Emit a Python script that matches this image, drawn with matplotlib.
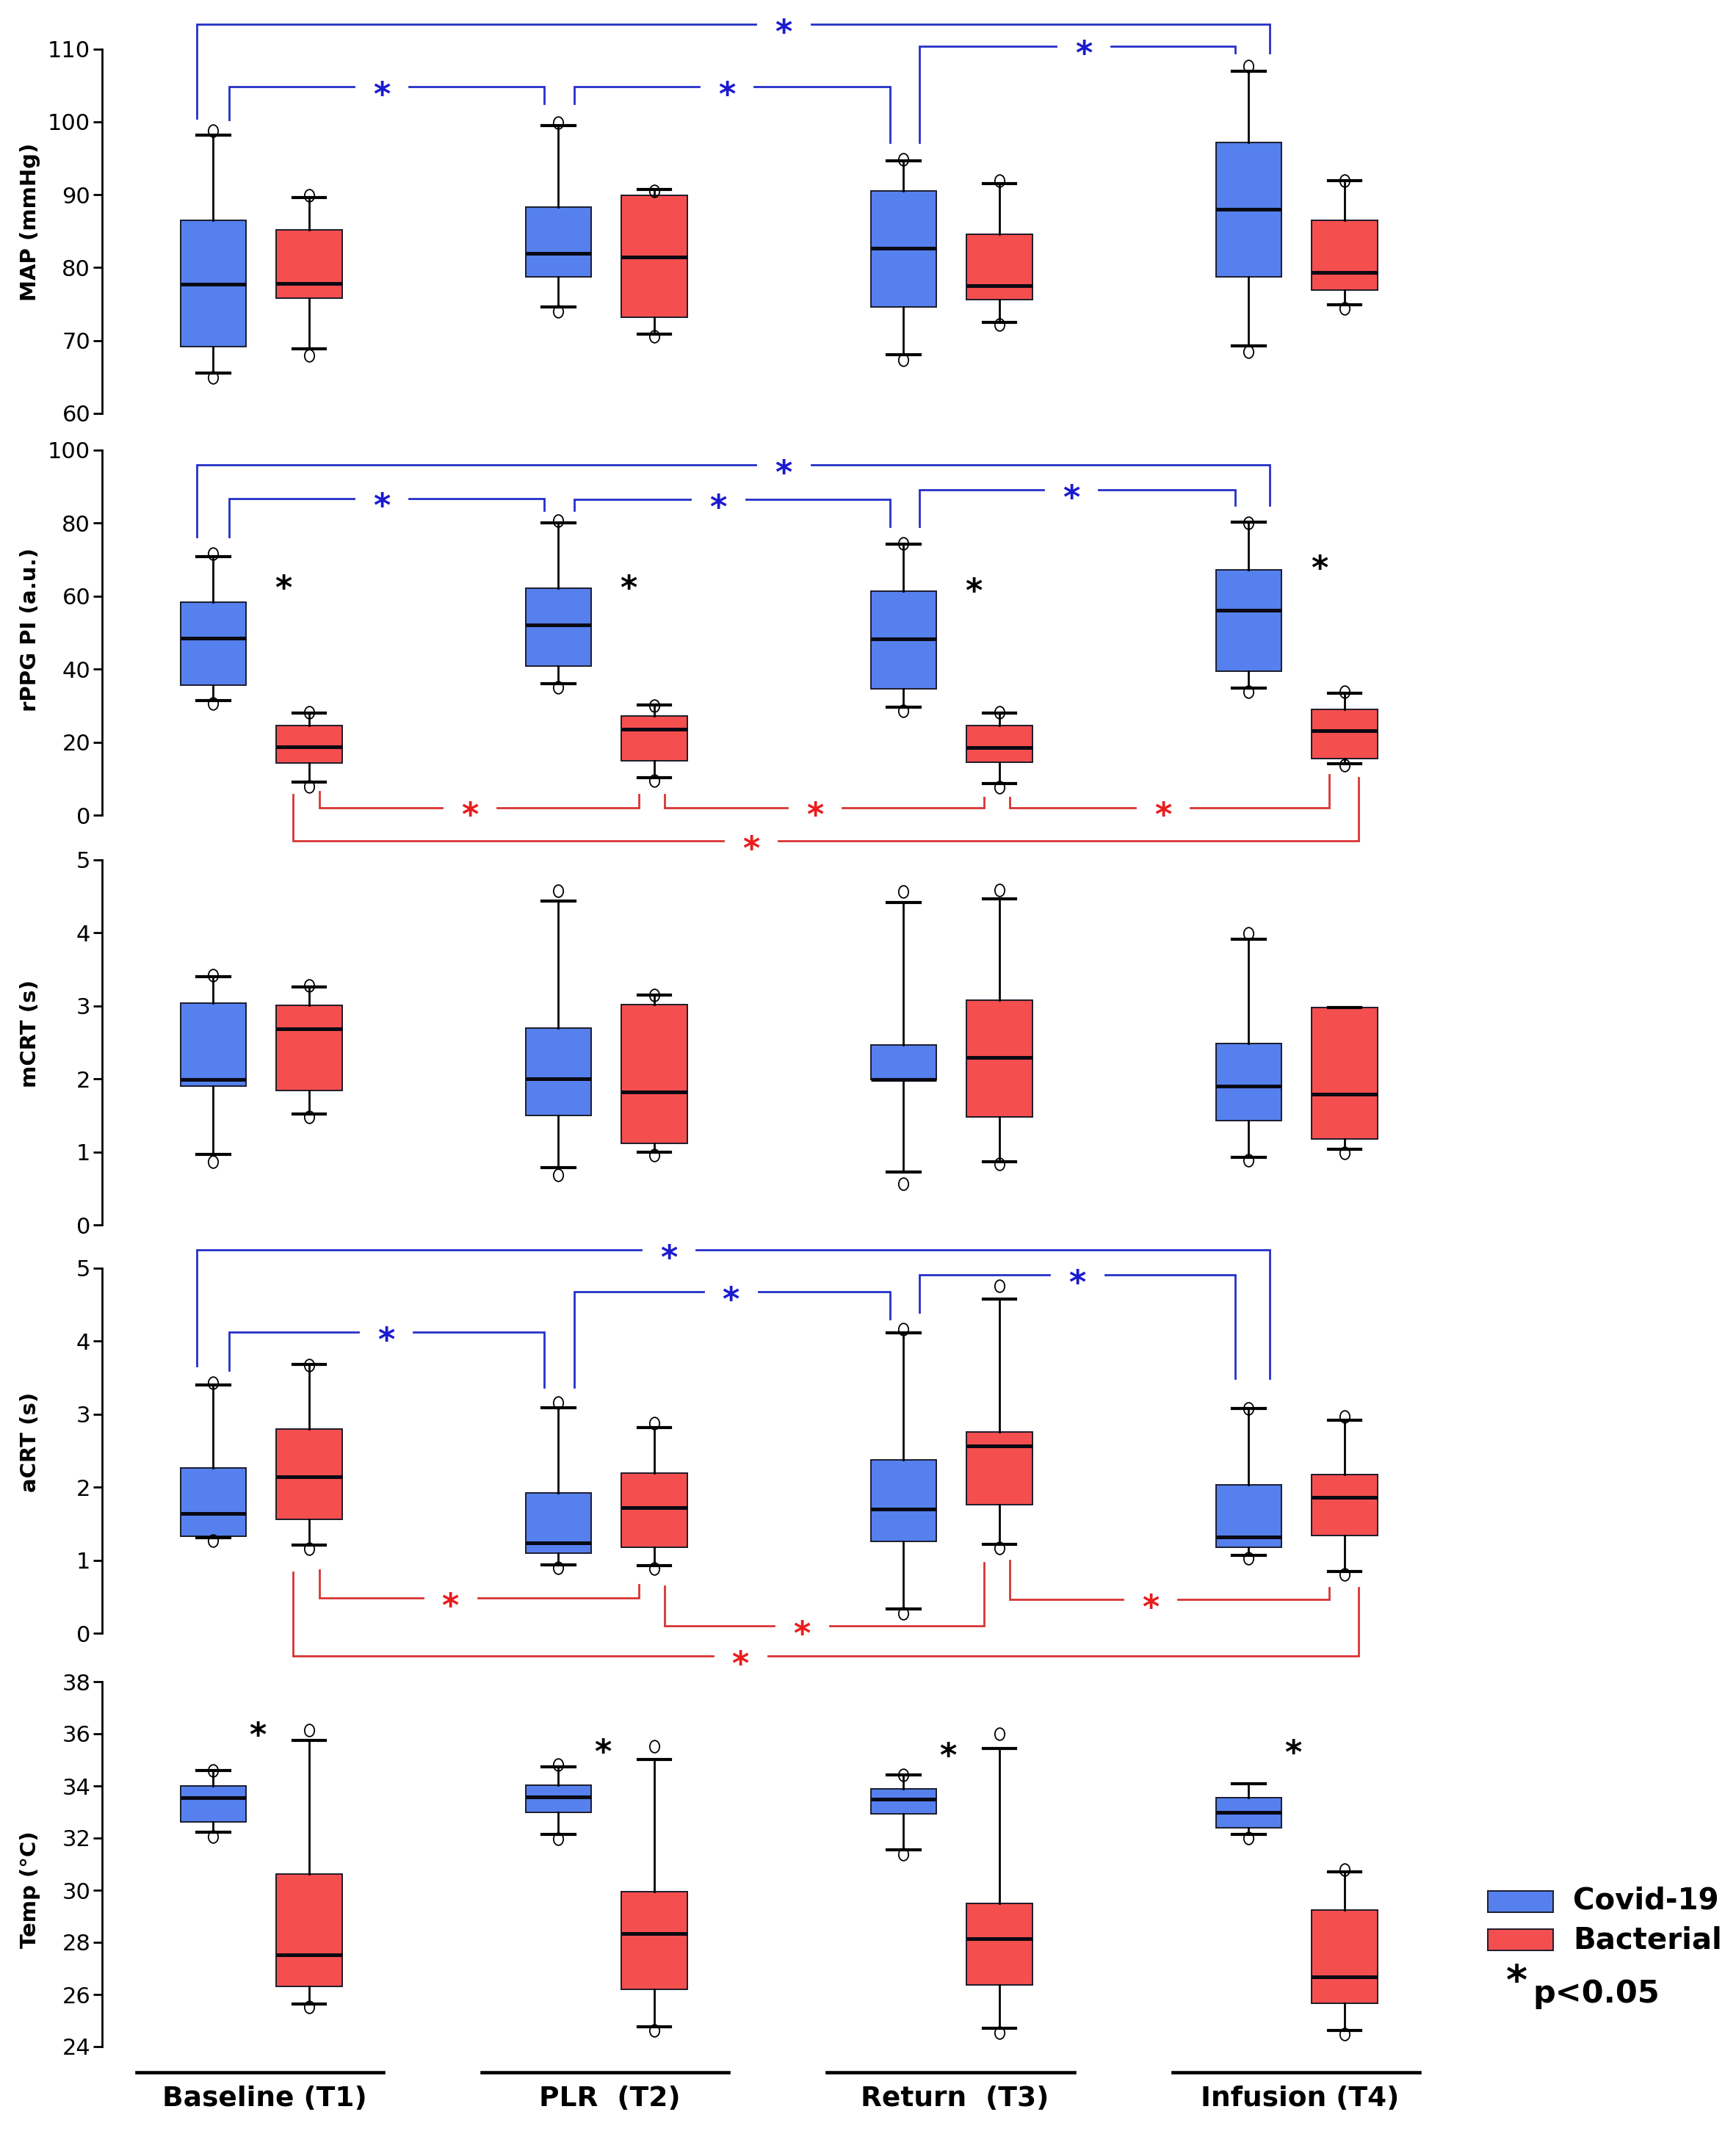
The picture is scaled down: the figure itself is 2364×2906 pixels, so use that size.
import numpy as np
import matplotlib
matplotlib.use('Agg')
import matplotlib.pyplot as plt
from matplotlib.path import Path
from matplotlib.patches import Rectangle

#- groups along the x axis
groups = ['Baseline (T1)', 'PLR  (T2)', 'Return  (T3)', 'Infusion (T4)']

#- box stats per group: [low circle, whisker low, q1, median, q3, whisker high, high circle]
map_covid = [[64.9, 65.5, 69.2, 77.7, 86.5, 98.2, 98.8],
             [74.0, 74.6, 78.7, 82.0, 88.3, 99.5, 99.9],
             [67.4, 68.1, 74.6, 82.7, 90.5, 94.6, 94.8],
             [68.5, 69.3, 78.7, 88.0, 97.2, 106.9, 107.6]]
map_bact = [[68.0, 68.9, 75.8, 77.8, 85.2, 89.6, 89.9],
            [70.6, 70.9, 73.2, 81.5, 89.9, 90.7, 90.5],
            [72.2, 72.5, 75.6, 77.5, 84.6, 91.5, 91.9],
            [74.4, 74.9, 76.9, 79.3, 86.5, 91.9, 91.9]]

ppg_covid = [[30.6, 31.3, 35.6, 48.4, 58.3, 70.9, 71.7],
             [35.0, 36.0, 40.9, 52.1, 62.1, 80.1, 80.7],
             [28.5, 29.6, 34.7, 48.2, 61.3, 74.2, 74.5],
             [33.9, 34.8, 39.5, 56.2, 67.3, 80.2, 80.1]]
ppg_bact = [[7.9, 9.0, 14.3, 18.8, 24.5, 28.0, 28.1],
            [9.4, 10.3, 14.9, 23.5, 27.1, 30.2, 30.0],
            [7.6, 8.6, 14.4, 18.6, 24.5, 27.9, 28.1],
            [13.6, 14.1, 15.4, 23.2, 28.9, 33.5, 33.9]]

mcrt_covid = [[0.87, 0.97, 1.90, 1.99, 3.04, 3.40, 3.42],
              [0.68, 0.78, 1.50, 2.00, 2.70, 4.44, 4.58],
              [0.56, 0.72, 1.99, 1.99, 2.46, 4.42, 4.57],
              [0.89, 0.93, 1.43, 1.90, 2.48, 3.91, 3.99]]
mcrt_bact = [[1.48, 1.52, 1.84, 2.69, 3.01, 3.26, 3.28],
             [0.96, 1.00, 1.12, 1.82, 3.02, 3.15, 3.15],
             [0.83, 0.87, 1.48, 2.29, 3.08, 4.47, 4.59],
             [0.99, 1.04, 1.18, 1.79, 2.98, 2.98, np.nan]]

acrt_covid = [[1.27, 1.31, 1.33, 1.64, 2.26, 3.40, 3.43],
              [0.90, 0.94, 1.10, 1.24, 1.92, 3.09, 3.16],
              [0.27, 0.33, 1.26, 1.70, 2.37, 4.11, 4.17],
              [1.03, 1.07, 1.18, 1.32, 2.03, 3.08, 3.08]]
acrt_bact = [[1.16, 1.21, 1.56, 2.14, 2.80, 3.68, 3.67],
             [0.89, 0.93, 1.18, 1.72, 2.19, 2.82, 2.88],
             [1.17, 1.22, 1.76, 2.57, 2.76, 4.58, 4.76],
             [0.80, 0.85, 1.34, 1.86, 2.17, 2.92, 2.97]]

temp_covid = [[32.07, 32.22, 32.63, 33.56, 34.00, 34.58, 34.60],
              [31.98, 32.15, 32.98, 33.59, 34.04, 34.74, 34.82],
              [31.37, 31.54, 32.94, 33.50, 33.88, 34.41, 34.43],
              [32.01, 32.13, 32.39, 32.98, 33.56, 34.09, np.nan]]
temp_bact = [[25.52, 25.64, 26.30, 27.53, 30.61, 35.75, 36.14],
             [24.61, 24.76, 26.20, 28.33, 29.93, 35.02, 35.52],
             [24.53, 24.70, 26.36, 28.15, 29.50, 35.44, 35.99],
             [24.47, 24.61, 25.66, 26.69, 29.24, 30.70, 30.78]]

#- significance brackets: (from group, to group, line y, left end y, right end y, star fraction)
map_blue = [(0, 3, 113.4, 100.45, 109.4, 0.547), (0, 1, 104.8, 100.3, 102.5, 0.483),
            (1, 2, 104.8, 102.5, 97.2, 0.483), (2, 3, 110.4, 97.2, 109.4, 0.52)]
ppg_blue = [(0, 3, 96.0, 76.3, 84.9, 0.547), (0, 1, 86.8, 76.3, 83.6, 0.483),
            (1, 2, 86.5, 83.6, 79.0, 0.456), (2, 3, 89.1, 79.0, 84.9, 0.48)]
ppg_red = [(0, 1, 2.1, 6.5, 5.7, 0.47), (1, 2, 2.1, 5.7, 4.8, 0.47),
           (2, 3, 2.1, 4.8, 11.1, 0.48), (0, 3, -7.0, 5.7, 10.3, 0.43)]
acrt_blue = [(0, 3, 5.25, 3.66, 3.49, 0.44), (0, 1, 4.12, 3.60, 3.37, 0.497),
             (1, 2, 4.68, 3.37, 4.31, 0.496), (2, 3, 4.91, 4.40, 3.49, 0.5)]
acrt_red = [(0, 1, 0.48, 0.87, 0.66, 0.41), (1, 2, 0.10, 0.64, 0.97, 0.43),
            (2, 3, 0.46, 1.00, 0.62, 0.44), (0, 3, -0.31, 0.83, 0.62, 0.42)]

#- black between-group stars (y value per group)
ppg_diff = [64.4, 64.4, 63.5, 69.8]
temp_diff = [36.26, 35.6, 35.46, 35.58]

panels = [
    dict(label='MAP (mmHg)', covid=map_covid, bact=map_bact, ylim=(60, 110), ticks=np.arange(60, 111, 10),
         ly=0.526, blue=map_blue, red=[], diff=None),
    dict(label='rPPG PI (a.u.)', covid=ppg_covid, bact=ppg_bact, ylim=(0, 100), ticks=np.arange(0, 101, 20),
         ly=0.509, blue=ppg_blue, red=ppg_red, diff=(ppg_diff, 0.065)),
    dict(label='mCRT (s)', covid=mcrt_covid, bact=mcrt_bact, ylim=(0, 5), ticks=np.arange(0, 6, 1),
         ly=0.525, blue=[], red=[], diff=None),
    dict(label='aCRT (s)', covid=acrt_covid, bact=acrt_bact, ylim=(0, 5), ticks=np.arange(0, 6, 1),
         ly=0.523, blue=acrt_blue, red=acrt_red, diff=None),
    dict(label='Temp (°C)', covid=temp_covid, bact=temp_bact, ylim=(24, 38), ticks=np.arange(24, 39, 2),
         ly=0.43, blue=[], red=[], diff=(temp_diff, -0.01)),
]

c_blue = '#5580EE'
c_red = '#F54E4E'
br_blue = '#2530C8'
st_blue = '#1A1AD0'
br_red = '#D83434'
st_red = '#EA1C1C'

W, H = 2364, 2906
fig = plt.figure(figsize=(W / 100, H / 100), dpi=100)

#- panel placement in pixels (top, bottom)
rows = [(66.5, 563), (613, 1110), (1171, 1668), (1727, 2224), (2290, 2787)]
left_px, right_px = 138.5, 1958

idx = np.arange(1, 5)
pos_b = idx - 0.139
pos_r = idx + 0.139

# ellipse-ish circle marker
uc = Path.unit_circle()
ell = Path(uc.vertices * [0.8, 1.0], uc.codes)

STAR_FS = 32


def star(ax, x, y, color, fs=STAR_FS):
    ax.annotate('*', (x, y), xytext=(0, -0.56 * fs), textcoords='offset points',
                ha='center', va='baseline', fontsize=fs, fontweight='bold',
                color=color, annotation_clip=False, zorder=6)


def bracket(ax, x0, x1, y, y0, y1, frac, lc, sc):
    gap = 0.08
    xs = x0 + frac * (x1 - x0)
    kw = dict(color=lc, lw=2.0, clip_on=False, zorder=5, solid_joinstyle='miter')
    ax.plot([x0, x0, xs - gap], [y0, y, y], **kw)
    ax.plot([xs + gap, x1, x1], [y, y, y1], **kw)
    star(ax, xs, y, sc)


def make_stats(rows_):
    out = []
    for r in rows_:
        fl = [v for v in (r[0], r[6]) if not np.isnan(v)]
        out.append(dict(whislo=r[1], q1=r[2], med=r[3], q3=r[4], whishi=r[5], fliers=fl))
    return out


axes = []
for p, (top, bot) in zip(panels, rows):
    ax = fig.add_axes([left_px / W, 1 - bot / H, (right_px - left_px) / W, (bot - top) / H])
    ax.patch.set_alpha(0)
    axes.append(ax)
    for data, pos, fc in [(p['covid'], pos_b, c_blue), (p['bact'], pos_r, c_red)]:
        ax.bxp(make_stats(data), positions=pos, widths=0.19, capwidths=0.095,
               patch_artist=True, manage_ticks=False,
               boxprops=dict(facecolor=fc, edgecolor='#1c1c2c', linewidth=1.4),
               medianprops=dict(color='#0a0a14', linewidth=3.6),
               whiskerprops=dict(color='black', linewidth=2.0),
               capprops=dict(color='black', linewidth=3.0),
               flierprops=dict(marker=ell, markersize=12, markerfacecolor='none',
                               markeredgecolor='black', markeredgewidth=1.3, linestyle='none'))

    ax.set_xlim(0.5383, 4.409)
    ax.set_ylim(*p['ylim'])
    ax.set_yticks(p['ticks'])
    ax.set_xticks([])
    for s in ['top', 'right', 'bottom']:
        ax.spines[s].set_visible(False)
    ax.spines['left'].set_linewidth(2.0)
    ax.tick_params(axis='y', direction='out', length=9, width=2.0, pad=2, labelsize=22)
    ax.set_ylabel(p['label'], fontsize=21, fontweight='bold')
    ax.yaxis.set_label_coords(-0.046, p['ly'])

    for gl, gr, y, y0, y1, fr in p['blue']:
        if gr - gl == 3:
            x0, x1 = pos_b[gl] - 0.047, pos_b[gr] + 0.06
        else:
            x0, x1 = pos_b[gl] + 0.047, pos_b[gr] - 0.04
        bracket(ax, x0, x1, y, y0, y1, fr, br_blue, st_blue)
    for gl, gr, y, y0, y1, fr in p['red']:
        if gr - gl == 3:
            x0, x1 = pos_r[gl] - 0.047, pos_r[gr] + 0.04
        else:
            x0, x1 = pos_r[gl] + 0.03, pos_r[gr] - 0.045
        bracket(ax, x0, x1, y, y0, y1, fr, br_red, st_red)

    if p['diff'] is not None:
        ys, off = p['diff']
        for i, yv in enumerate(ys):
            star(ax, idx[i] + off, yv, 'black')

#- group labels under the last panel
axb = axes[-1]
tr = axb.get_xaxis_transform()
for i, g in enumerate(groups):
    axb.plot([idx[i] - 0.36, idx[i] + 0.355], [-0.07, -0.07], transform=tr, color='black',
             lw=3.3, clip_on=False)
    axb.text(idx[i] + 0.01, -0.142, g, transform=tr, ha='center', va='center',
             fontsize=27, fontweight='bold')

#- legend
fig.add_artist(Rectangle((2026 / W, 1 - 2604 / H), 89 / W, 29 / H, transform=fig.transFigure,
                         facecolor=c_blue, edgecolor='#1c1c2c', lw=1.4))
fig.add_artist(Rectangle((2026 / W, 1 - 2656 / H), 89 / W, 29 / H, transform=fig.transFigure,
                         facecolor=c_red, edgecolor='#1c1c2c', lw=1.4))
fig.text(2142 / W, 1 - 2588 / H, 'Covid-19', fontsize=29, fontweight='bold', va='center')
fig.text(2142 / W, 1 - 2642 / H, 'Bacterial', fontsize=29, fontweight='bold', va='center')
fig.text(2065 / W, 1 - 2700 / H, '*', fontsize=40, fontweight='bold', ha='center', va='center')
fig.text(2087 / W, 1 - 2715 / H, 'p<0.05', fontsize=31, fontweight='bold', va='center')

fig.savefig('out.png', dpi=100)
